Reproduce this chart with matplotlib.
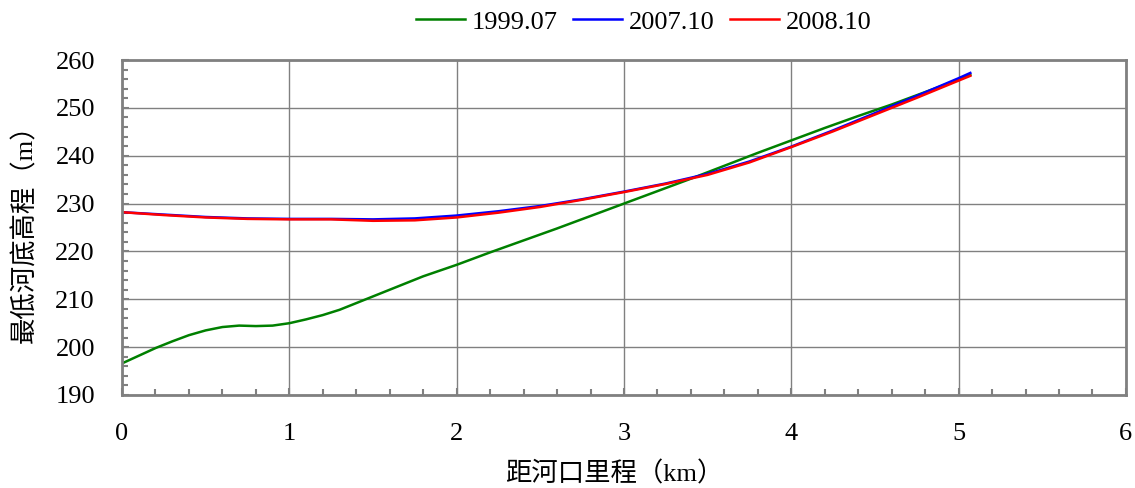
import matplotlib
matplotlib.use("Agg")
import matplotlib.pyplot as plt
from matplotlib.ticker import MultipleLocator

plt.rcParams["font.family"] = ["Liberation Serif", "Noto Sans CJK SC"]
plt.rcParams["font.size"] = 19

# 最低河底高程纵剖面 (距河口 km, 高程 m)
x_1999 = [0.0, 0.1, 0.2, 0.3, 0.4, 0.5, 0.6, 0.7, 0.8, 0.9, 1.0, 1.1, 1.2, 1.3,
          1.4, 1.5, 1.6, 1.7, 1.8, 1.9, 2.0, 2.2, 2.4, 2.6, 2.8, 3.0, 3.2, 3.4,
          3.6, 3.8, 4.0, 4.2, 4.4, 4.6, 4.8, 5.0, 5.07]
z_1999 = [196.6, 198.2, 199.8, 201.2, 202.5, 203.5, 204.2, 204.5, 204.4, 204.5,
          205.0, 205.8, 206.7, 207.8, 209.2, 210.6, 212.0, 213.4, 214.8, 216.0,
          217.2, 219.8, 222.3, 224.8, 227.4, 230.0, 232.6, 235.2, 237.9, 240.6,
          243.2, 245.8, 248.3, 250.7, 253.3, 255.9, 256.9]

x_2007 = [0.0, 0.25, 0.5, 0.75, 1.0, 1.25, 1.5, 1.75, 2.0, 2.25, 2.5, 2.75, 3.0,
          3.25, 3.5, 3.75, 4.0, 4.25, 4.5, 4.75, 5.0, 5.07]
z_2007 = [228.2, 227.7, 227.2, 226.9, 226.8, 226.8, 226.7, 226.9, 227.5, 228.4,
          229.5, 230.9, 232.5, 234.2, 236.2, 238.8, 241.9, 245.3, 248.9, 252.5,
          256.2, 257.3]

x_2008 = [0.0, 0.25, 0.5, 0.75, 1.0, 1.25, 1.5, 1.75, 2.0, 2.25, 2.5, 2.75, 3.0,
          3.25, 3.5, 3.75, 4.0, 4.25, 4.5, 4.75, 5.0, 5.07]
z_2008 = [228.2, 227.6, 227.1, 226.8, 226.7, 226.7, 226.4, 226.5, 227.1, 228.1,
          229.3, 230.8, 232.4, 234.1, 236.0, 238.6, 241.8, 245.1, 248.6, 252.1,
          255.7, 256.7]

GRID = "#808080"

fig = plt.figure(figsize=(11.35, 4.88), dpi=100)
ax = fig.add_axes([0.1075, 0.1906, 0.8845, 0.6864])

ax.plot(x_1999, z_1999, color="#008000", lw=1.8, label="1999.07")
ax.plot(x_2007, z_2007, color="#0000ff", lw=1.8, label="2007.10")
ax.plot(x_2008, z_2008, color="#ff0000", lw=1.8, label="2008.10")

ax.set_xlim(0, 6)
ax.set_ylim(190, 260)
ax.xaxis.set_major_locator(MultipleLocator(1))
ax.xaxis.set_minor_locator(MultipleLocator(0.2))
ax.yaxis.set_major_locator(MultipleLocator(10))
ax.yaxis.set_minor_locator(MultipleLocator(2))
ax.grid(True, which="major", color=GRID, lw=1.0)
ax.set_axisbelow(True)

for side in ("top", "right", "bottom", "left"):
    ax.spines[side].set_color(GRID)
    ax.spines[side].set_linewidth(2.0)
ax.tick_params(which="both", direction="in", color=GRID, top=False, right=False)
ax.tick_params(which="major", length=5, width=1.5)
ax.tick_params(which="minor", length=4, width=1.5)
ax.tick_params(axis="x", which="major", pad=20)
ax.tick_params(axis="y", which="major", pad=19.5)

ax.set_xlabel("距河口里程（km）")
ax.xaxis.set_label_coords(0.49, -0.198)
ax.set_ylabel("最低河底高程（m）")
ax.yaxis.set_label_coords(-0.0847, 0.5)

fig.legend(loc="center", bbox_to_anchor=(0.567, 0.955), ncol=3, frameon=False,
           handlelength=1.85, handletextpad=0.25, columnspacing=0.6)

fig.savefig("out.png", dpi=100)
